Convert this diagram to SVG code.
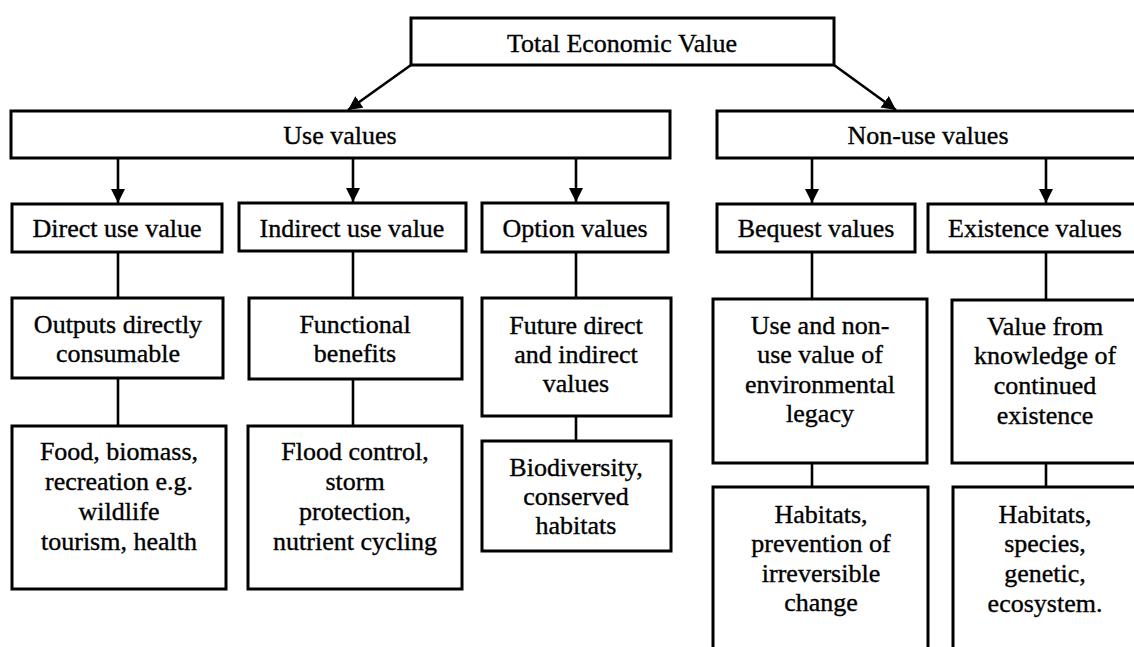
<svg xmlns="http://www.w3.org/2000/svg" width="1134" height="647" viewBox="0 0 1134 647">
<style>
.box{fill:#fff;stroke:#000;stroke-width:3}
.t{font-family:"Liberation Serif","Times New Roman",serif;font-size:26px;fill:#000;stroke:#000;stroke-width:0.35;text-anchor:middle}
.c{stroke:#000;stroke-width:2.6;fill:none}
</style>
<defs>
<marker id="ah" markerUnits="userSpaceOnUse" markerWidth="16" markerHeight="16" refX="14" refY="7" orient="auto">
<path d="M0,0 L14,7 L0,14 Z" fill="#000"/>
</marker>
</defs>
<g id="connectors">
<line class="c" x1="411" y1="65" x2="348" y2="110" marker-end="url(#ah)"/>
<line class="c" x1="834" y1="65" x2="896" y2="110" marker-end="url(#ah)"/>
<line class="c" x1="118" y1="158" x2="118" y2="203" marker-end="url(#ah)"/>
<line class="c" x1="353" y1="158" x2="353" y2="202" marker-end="url(#ah)"/>
<line class="c" x1="576" y1="158" x2="576" y2="202" marker-end="url(#ah)"/>
<line class="c" x1="812" y1="158" x2="812" y2="203" marker-end="url(#ah)"/>
<line class="c" x1="1046" y1="158" x2="1046" y2="203" marker-end="url(#ah)"/>
<line class="c" x1="118" y1="252" x2="118" y2="298"/>
<line class="c" x1="118" y1="378" x2="118" y2="426"/>
<line class="c" x1="353" y1="251" x2="353" y2="298"/>
<line class="c" x1="353" y1="379" x2="353" y2="426"/>
<line class="c" x1="576" y1="252" x2="576" y2="298"/>
<line class="c" x1="576" y1="416" x2="576" y2="441"/>
<line class="c" x1="812" y1="252" x2="812" y2="299"/>
<line class="c" x1="812" y1="463" x2="812" y2="487"/>
<line class="c" x1="1046" y1="252" x2="1046" y2="300"/>
<line class="c" x1="1046" y1="463" x2="1046" y2="487"/>
</g>
<g id="total">
<rect class="box" x="411" y="18" width="423" height="47"/>
<text class="t" x="622" y="52">Total Economic Value</text>
</g>
<g id="use">
<rect class="box" x="11" y="111" width="659" height="47"/>
<text class="t" x="340" y="144">Use values</text>
</g>
<g id="nonuse">
<rect class="box" x="717" y="111" width="425" height="47"/>
<text class="t" x="928" y="144">Non-use values</text>
</g>
<g id="direct">
<rect class="box" x="12" y="204" width="210" height="48"/>
<text class="t" x="117" y="237">Direct use value</text>
</g>
<g id="indirect">
<rect class="box" x="239" y="203" width="227" height="48"/>
<text class="t" x="352" y="237">Indirect use value</text>
</g>
<g id="option">
<rect class="box" x="482" y="203" width="186" height="49"/>
<text class="t" x="575" y="237">Option values</text>
</g>
<g id="bequest">
<rect class="box" x="717" y="204" width="198" height="48"/>
<text class="t" x="816" y="237">Bequest values</text>
</g>
<g id="existence">
<rect class="box" x="928" y="204" width="214" height="48"/>
<text class="t" x="1035" y="237">Existence values</text>
</g>
<g id="outputs">
<rect class="box" x="12" y="298" width="211" height="80"/>
<text class="t" x="118" y="333">Outputs directly</text>
<text class="t" x="118" y="362">consumable</text>
</g>
<g id="functional">
<rect class="box" x="249" y="298" width="213" height="81"/>
<text class="t" x="355" y="333">Functional</text>
<text class="t" x="355" y="362">benefits</text>
</g>
<g id="future">
<rect class="box" x="482" y="298" width="189" height="118"/>
<text class="t" x="576" y="334">Future direct</text>
<text class="t" x="576" y="363">and indirect</text>
<text class="t" x="576" y="392">values</text>
</g>
<g id="legacy">
<rect class="box" x="713" y="299" width="214" height="164"/>
<text class="t" x="820" y="334">Use and non-</text>
<text class="t" x="820" y="363">use value of</text>
<text class="t" x="820" y="393">environmental</text>
<text class="t" x="820" y="422">legacy</text>
</g>
<g id="knowledge">
<rect class="box" x="952" y="300" width="190" height="163"/>
<text class="t" x="1045" y="335">Value from</text>
<text class="t" x="1045" y="364">knowledge of</text>
<text class="t" x="1045" y="394">continued</text>
<text class="t" x="1045" y="424">existence</text>
</g>
<g id="food">
<rect class="box" x="12" y="426" width="214" height="163"/>
<text class="t" x="119" y="460">Food, biomass,</text>
<text class="t" x="119" y="490">recreation e.g.</text>
<text class="t" x="119" y="520">wildlife</text>
<text class="t" x="119" y="550">tourism, health</text>
</g>
<g id="flood">
<rect class="box" x="248" y="426" width="214" height="163"/>
<text class="t" x="355" y="460">Flood control,</text>
<text class="t" x="355" y="490">storm</text>
<text class="t" x="355" y="520">protection,</text>
<text class="t" x="355" y="550">nutrient cycling</text>
</g>
<g id="biodiversity">
<rect class="box" x="482" y="441" width="189" height="110"/>
<text class="t" x="576" y="476">Biodiversity,</text>
<text class="t" x="576" y="505">conserved</text>
<text class="t" x="576" y="534">habitats</text>
</g>
<g id="habitats1">
<rect class="box" x="713" y="487" width="215" height="180"/>
<text class="t" x="821" y="523">Habitats,</text>
<text class="t" x="821" y="552">prevention of</text>
<text class="t" x="821" y="582">irreversible</text>
<text class="t" x="821" y="611">change</text>
</g>
<g id="habitats2">
<rect class="box" x="953" y="487" width="189" height="180"/>
<text class="t" x="1045" y="523">Habitats,</text>
<text class="t" x="1045" y="552">species,</text>
<text class="t" x="1045" y="582">genetic,</text>
<text class="t" x="1045" y="612">ecosystem.</text>
</g>
</svg>
